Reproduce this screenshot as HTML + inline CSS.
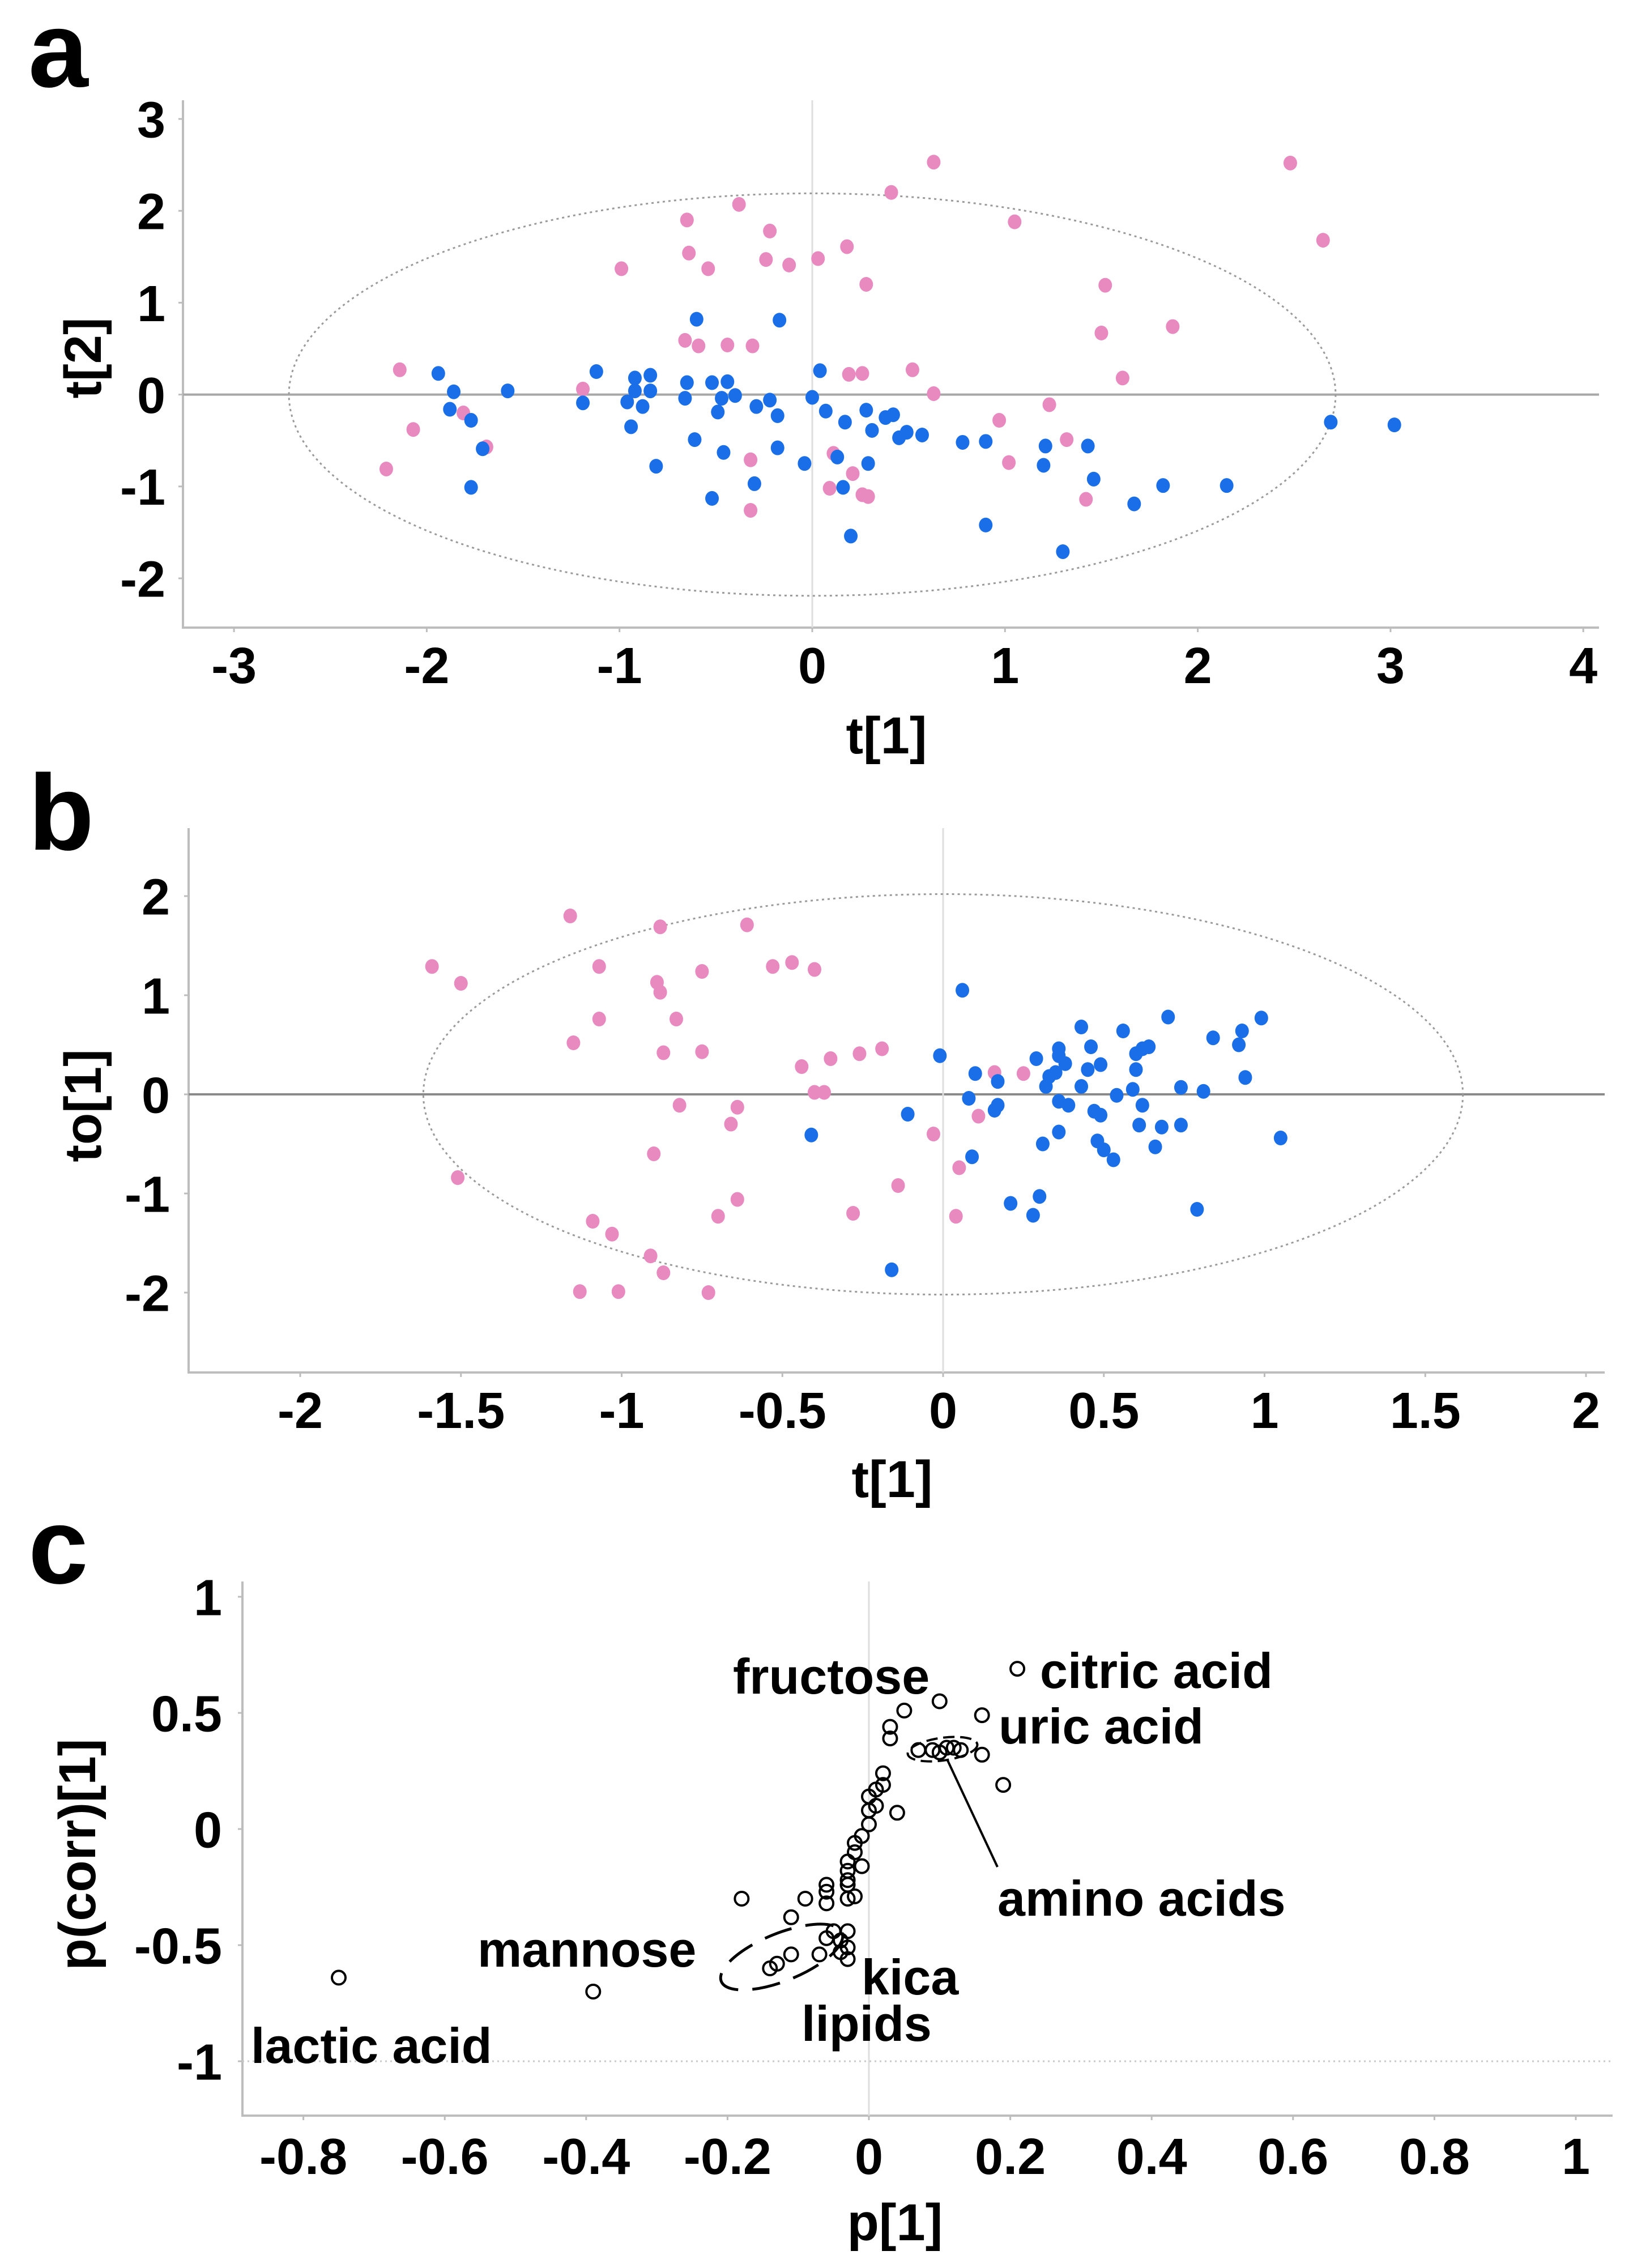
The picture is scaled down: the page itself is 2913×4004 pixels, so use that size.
<!DOCTYPE html>
<html><head><meta charset="utf-8"><style>
html,body{margin:0;padding:0;background:#fff;}
svg{display:block;font-family:"Liberation Sans",Arial,sans-serif;font-weight:bold;}
</style></head><body>
<svg id="fig" width="2913" height="4004" viewBox="0 0 2913 4004" xmlns="http://www.w3.org/2000/svg">
<rect width="2913" height="4004" fill="#fff"/>
<g id="pa"></g>
<g id="pb"></g>
<g id="pc"></g>
</svg>
<script>
// ---------- Panel a data ----------
const aPinkT1 = [0.63,2.48,0.41,-0.38,1.05,-0.65,2.65,-0.22,0.18,-0.64,-0.24,-0.12,0.03,-0.99,-0.54,0.28,1.52,1.87,1.50,-0.66,-0.59,-0.44,-0.31,-2.14,0.52,0.19,0.26,1.61,-1.19,0.63,1.23,-1.81,0.97,-2.07,1.32,-1.69,1.02,-0.32,0.11,0.21,-2.21,0.09,0.26,0.29,1.42,-0.32];
const aPinkT2 = [2.53,2.52,2.20,2.07,1.88,1.90,1.68,1.78,1.61,1.54,1.47,1.41,1.48,1.37,1.37,1.20,1.19,0.74,0.67,0.59,0.53,0.54,0.53,0.27,0.27,0.22,0.23,0.18,0.06,0.01,-0.11,-0.20,-0.28,-0.38,-0.49,-0.57,-0.74,-0.71,-0.64,-0.86,-0.81,-1.02,-1.09,-1.11,-1.14,-1.26];
const aBlueT1 = [-0.6,-0.17,-1.94,-1.12,0.04,-0.92,-0.84,-0.65,-0.52,-0.44,-1.86,-1.58,-0.84,-0.92,-0.40,-0.66,-0.47,0.0,-0.22,-1.19,-0.96,-0.88,-1.88,-0.29,0.07,0.28,0.42,-0.18,-1.77,0.17,0.38,0.31,-0.94,0.49,0.57,0.45,2.69,3.02,-0.61,0.78,0.90,1.21,1.43,-1.71,-0.46,-0.18,0.13,1.46,-0.81,-0.04,0.29,1.20,-0.30,1.82,2.15,0.16,-1.77,-0.52,1.67,0.90,0.20,1.30,-0.49];
const aBlueT2 = [0.82,0.81,0.23,0.25,0.26,0.18,0.21,0.13,0.13,0.14,0.03,0.04,0.04,0.04,-0.01,-0.04,-0.04,-0.03,-0.06,-0.09,-0.08,-0.13,-0.16,-0.13,-0.18,-0.17,-0.22,-0.23,-0.28,-0.30,-0.25,-0.39,-0.35,-0.41,-0.44,-0.47,-0.30,-0.33,-0.49,-0.52,-0.51,-0.56,-0.56,-0.59,-0.63,-0.58,-0.68,-0.92,-0.78,-0.75,-0.75,-0.77,-0.97,-0.99,-0.99,-1.01,-1.01,-1.13,-1.19,-1.42,-1.54,-1.71,-0.19];
const aXTicks = [-3,-2,-1,0,1,2,3,4];
const aYTicks = [3,2,1,0,-1,-2];
// ---------- Panel b data ----------
const bPinkT1 = [-1.16,-0.88,-0.61,-1.59,-1.07,-1.50,-0.75,-0.53,-0.47,-0.40,-0.89,-0.88,-1.07,-0.83,-1.15,-0.87,-0.75,-0.44,-0.35,-0.26,-0.19,0.16,0.25,-0.40,-0.37,-0.82,-0.64,-0.66,0.11,-0.03,-0.90,-1.51,0.05,-0.14,-0.64,-0.70,-0.28,0.04,-1.09,-1.03,-0.91,-0.87,-1.13,-1.01,-0.73];
const bPinkTo = [1.80,1.69,1.71,1.29,1.29,1.12,1.24,1.29,1.33,1.26,1.13,1.03,0.76,0.76,0.52,0.42,0.43,0.28,0.36,0.41,0.46,0.22,0.21,0.02,0.02,-0.11,-0.13,-0.30,-0.22,-0.40,-0.60,-0.84,-0.74,-0.92,-1.06,-1.23,-1.20,-1.23,-1.28,-1.41,-1.63,-1.80,-1.99,-1.99,-2.00];
const bBlueT1 = [0.06,0.70,0.99,0.43,0.56,0.93,0.84,0.92,0.64,0.46,0.36,0.36,0.60,0.62,-0.01,0.29,0.38,0.49,0.45,0.60,0.10,0.35,0.33,0.17,0.94,0.32,0.43,0.59,0.74,0.81,0.54,0.08,0.36,0.39,0.62,0.17,0.16,0.47,0.49,-0.11,0.61,0.68,0.74,0.36,-0.41,0.31,0.48,0.50,0.66,1.05,0.53,0.09,0.21,0.30,0.28,0.79,-0.16];
const bBlueTo = [1.05,0.78,0.77,0.68,0.64,0.64,0.57,0.50,0.48,0.48,0.46,0.39,0.41,0.46,0.39,0.36,0.31,0.30,0.25,0.25,0.21,0.22,0.18,0.13,0.17,0.08,0.08,0.05,0.07,0.03,-0.01,-0.04,-0.07,-0.11,-0.11,-0.11,-0.16,-0.17,-0.21,-0.20,-0.31,-0.33,-0.31,-0.38,-0.41,-0.50,-0.47,-0.56,-0.53,-0.44,-0.66,-0.63,-1.10,-1.03,-1.22,-1.16,-1.77];
const bXTicks = [-2,-1.5,-1,-0.5,0,0.5,1,1.5,2];
const bYTicks = [2,1,0,-1,-2];
// ---------- Panel c data ----------
const cP = [-0.75,-0.39,-0.18,-0.11,-0.09,-0.06,-0.06,-0.03,-0.02,0.21,0.10,0.05,0.03,0.03,0.16,0.16,0.19,0.02,0.02,0.01,0.0,0.01,0.0,0.04,-0.0,-0.01,-0.02,-0.02,-0.03,-0.01,-0.03,-0.03,-0.06,-0.03,-0.05,-0.03,-0.06,-0.04,-0.07,-0.04,-0.03,-0.03,-0.11,-0.13,-0.14,0.07,0.09,0.11,0.12,0.13,0.10];
const cPcorr = [-0.64,-0.70,-0.30,-0.38,-0.30,-0.32,-0.27,-0.30,-0.29,0.69,0.55,0.51,0.44,0.39,0.49,0.32,0.19,0.24,0.19,0.17,0.14,0.10,0.08,0.07,0.02,-0.03,-0.06,-0.10,-0.14,-0.16,-0.18,-0.22,-0.24,-0.24,-0.44,-0.44,-0.47,-0.48,-0.54,-0.53,-0.56,-0.51,-0.54,-0.58,-0.60,0.34,0.34,0.35,0.35,0.34,0.33];
const cXTicks = [-0.8,-0.6,-0.4,-0.2,0,0.2,0.4,0.6,0.8,1];
const cYTicks = [1,0.5,0,-0.5,-1];
const cLabels = ["fructose","citric acid","uric acid","amino acids","mannose","kica","lipids","lactic acid"];

const NS="http://www.w3.org/2000/svg";
function mk(parent,tag,attrs,text){const e=document.createElementNS(NS,tag);for(const k in attrs)e.setAttribute(k,attrs[k]);if(text!==undefined)e.textContent=text;parent.appendChild(e);return e;}
function fmt(v){return (v<0?"-":"")+String(Math.abs(v)).replace(/^0\./,"0.");}

function panel(g,o){
  const sx=v=>o.x0+v*o.ux, sy=v=>o.y0-v*o.uy;
  // axes
  const ax=mk(g,'path',{d:`M${o.L},${o.T} V${o.B} H${o.R}`,stroke:'#bdbdbd','stroke-width':4,fill:'none'});
  
  
  // zero lines
  const hz=mk(g,'line',{x1:o.L,x2:o.R,y1:sy(0),y2:sy(0),stroke:o.hzc,'stroke-width':o.hzw});
  
  
  const vz=mk(g,'line',{x1:sx(0),x2:sx(0),y1:o.T,y2:o.B,stroke:'#dedede','stroke-width':3});
  
  
  o.xt.forEach(v=>{
    const t=mk(g,'text',{x:sx(v),y:o.xly,'text-anchor':'middle','font-size':o.fs},fmt(v));
    
    
    const tk=mk(g,'line',{x1:sx(v),x2:sx(v),y1:o.B,y2:o.B+8,stroke:'#bdbdbd','stroke-width':3});
    
    
  });
  o.yt.forEach(v=>{
    const t=mk(g,'text',{x:o.ylx,y:sy(v)+o.fs*0.36,'text-anchor':'end','font-size':o.fs},fmt(v));
    
    
    const tk=mk(g,'line',{x1:o.L-8,x2:o.L,y1:sy(v),y2:sy(v),stroke:'#bdbdbd','stroke-width':3});
    
    
  });
  const xt=mk(g,'text',{x:o.xtx,y:o.xty,'text-anchor':'middle','font-size':92},o.xtitle);
  
  
  const yt=mk(g,'text',{x:0,y:0,'text-anchor':'middle','font-size':92,transform:`translate(${o.ytx},${o.yty}) rotate(-90)`},o.ytitle);
  
  
  const pl=mk(g,'text',{x:o.plx,y:o.ply,'font-size':190},o.letter);
  
  
  return {sx,sy};
}
function ellipse(g,cx,cy,rx,ry){
  const e=mk(g,'ellipse',{cx,cy,rx,ry,fill:'none',stroke:'#9a9a9a','stroke-width':3,'stroke-dasharray':'4 6'});
  
  
}
function dots(g,s,xs,ys,color,name){
  xs.forEach((v,i)=>{
    const c=mk(g,'ellipse',{cx:s.sx(v),cy:s.sy(ys[i]),rx:12,ry:13,fill:color});
    
    
  });
}

// Panel a
const ga=document.getElementById('pa');
const sa=panel(ga,{x0:1434,ux:340.3,y0:696.6,uy:162.2,L:323,R:2823,T:177,B:1108,hzc:'#a8a8a8',hzw:4,
  xt:aXTicks,yt:aYTicks,xly:1206,ylx:292,fs:90,xtitle:'t[1]',xtx:1565,xty:1330,ytitle:'t[2]',ytx:178,yty:632,letter:'a',plx:50,ply:153});
ellipse(ga,sa.sx(0),sa.sy(0),2.715*340.3,2.19*162.2);
dots(ga,sa,aPinkT1,aPinkT2,'#e88ac0','pink-sample-point');
dots(ga,sa,aBlueT1,aBlueT2,'#1a6fe8','blue-sample-point');

// Panel b
const gb=document.getElementById('pb');
const sb=panel(gb,{x0:1665,ux:567.5,y0:1932,uy:175,L:333,R:2833,T:1462,B:2423,hzc:'#8a8a8a',hzw:4,
  xt:bXTicks,yt:bYTicks,xly:2521,ylx:300,fs:90,xtitle:'t[1]',xtx:1575,xty:2643,ytitle:'to[1]',ytx:178,yty:1952,letter:'b',plx:50,ply:1500});
ellipse(gb,sb.sx(0),sb.sy(0),1.617*567.5,2.02*175);
dots(gb,sb,bPinkT1,bPinkTo,'#e88ac0','pink-sample-point');
dots(gb,sb,bBlueT1,bBlueTo,'#1a6fe8','blue-sample-point');

// Panel c
const gc=document.getElementById('pc');
const sc=panel(gc,{x0:1534,ux:1248,y0:3229,uy:410,L:428,R:2847,T:2792,B:3735,hzc:'#ffffff',hzw:0,
  xt:cXTicks,yt:cYTicks,xly:3838,ylx:392,fs:90,xtitle:'p[1]',xtx:1580,xty:3955,ytitle:'p(corr)[1]',ytx:168,yty:3274,letter:'c',plx:50,ply:2795});
const grid=mk(gc,'line',{x1:428,x2:2847,y1:sc.sy(-1),y2:sc.sy(-1),stroke:'#c8c8c8','stroke-width':3,'stroke-dasharray':'3 6'});


cP.forEach((v,i)=>{
  const c=mk(gc,'circle',{cx:sc.sx(v),cy:sc.sy(cPcorr[i]),r:12,fill:'none',stroke:'#000','stroke-width':4});
  
  
});
const le=mk(gc,'ellipse',{cx:1380,cy:3455,rx:115,ry:42,transform:'rotate(-22 1380 3455)',fill:'none',stroke:'#000','stroke-width':5,'stroke-dasharray':'50 25'});


const ae=mk(gc,'ellipse',{cx:1664,cy:3088,rx:62,ry:20,transform:'rotate(-8 1664 3088)',fill:'none',stroke:'#000','stroke-width':4,'stroke-dasharray':'20 10'});


const ln=mk(gc,'line',{x1:1673,y1:3108,x2:1761,y2:3296,stroke:'#000','stroke-width':4});


const labPos=[[1294,2990],[1836,2980],[1763,3078],[1761,3382],[843,3472],[1521,3521],[1415,3603],[443,3642]];
cLabels.forEach((s,i)=>{
  const t=mk(gc,'text',{x:labPos[i][0],y:labPos[i][1],'font-size':88},s);
  
  
});
</script>
</body></html>
